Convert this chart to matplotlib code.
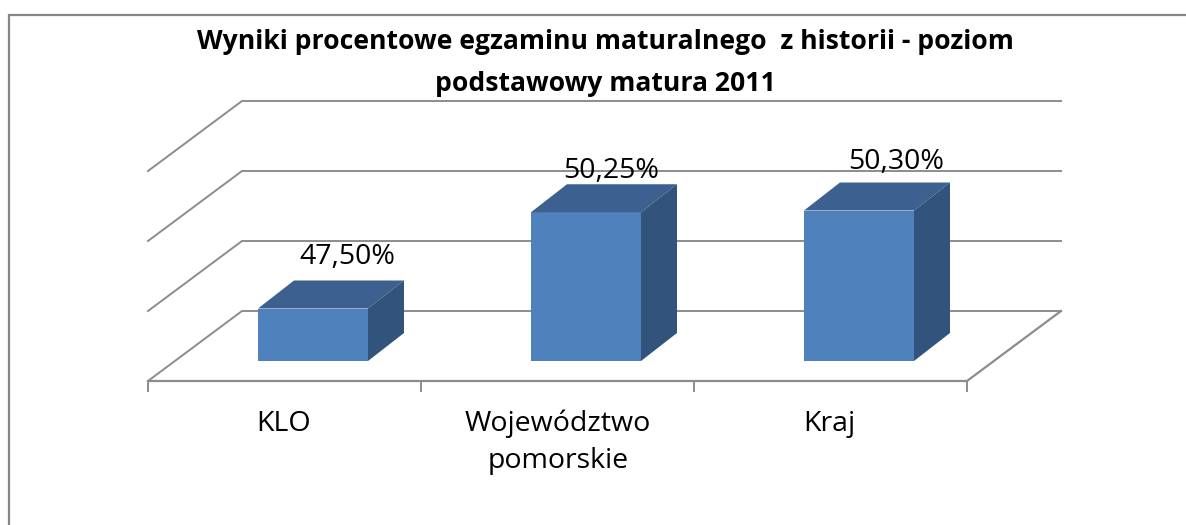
import matplotlib
matplotlib.use("Agg")
import matplotlib.pyplot as plt
from matplotlib.patches import Polygon

categories = ["KLO", "Województwo\npomorskie", "Kraj"]
values = [47.50, 50.25, 50.30]
value_labels = ["47,50%", "50,25%", "50,30%"]
grid_values = [46, 48, 50, 52]
title = "Wyniki procentowe egzaminu maturalnego  z historii - poziom\npodstawowy matura 2011"

W, H = 1186, 525
X0, PX_CAT = 148, 273
Y0, PX_UNIT = 381, 35
DX, DY = 94 / PX_CAT, 2.0   # depth of the plot box, in data units
plt.rcParams["font.family"] = ["Open Sans", "DejaVu Sans"]

fig = plt.figure(figsize=(W / 100, H / 100), dpi=100, facecolor="white")
ax = fig.add_axes([0, 0, 1, 1])
ax.set_xlim(-X0 / PX_CAT, (W - X0) / PX_CAT)
ax.set_ylim(46 - (H - Y0) / PX_UNIT, 46 + Y0 / PX_UNIT)
ax.axis("off")

def P(x, v, d=0.0):
    return (x + d * DX, v + d * DY)

GRID = "#8c8c8c"
# chart frame: only the left and top edges fall inside the picture
ax.plot([8.8 / W, 8.8 / W, 1.0], [0.0, 1 - 15 / H, 1 - 15 / H],
        transform=ax.transAxes, color="#868686", lw=1.6, solid_joinstyle="miter")
n = len(categories)
for v in grid_values:
    xs, ys = zip(P(0, v, 0), P(0, v, 1), P(n, v, 1))
    ax.plot(xs, ys, color=GRID, lw=1.4, solid_joinstyle="miter")
xs, ys = zip(P(0, 46, 0), P(n, 46, 0), P(n, 46, 1))
ax.plot(xs, ys, color=GRID, lw=1.6)
for i in range(n + 1):
    ax.plot([i, i], [46, 46 - 10 / PX_UNIT], color=GRID, lw=1.4)

BW = 110 / PX_CAT
D0, D1 = 20 / 70, 48 / 70
label_px = [(347, 257), (611, 171), (896, 162)]
for i, (v, lab) in enumerate(zip(values, value_labels)):
    cx = i + 0.5 + 28.5 / PX_CAT
    l, r = cx - BW / 2, cx + BW / 2
    off = lambda x, val, d: (x + (d - D0) * 70 * (36 / 28) / PX_CAT,
                             val + D0 * DY + (d - D0) * DY)
    ax.add_patch(Polygon([off(l, 46, D0), off(r, 46, D0), off(r, v, D0), off(l, v, D0)],
                         fc="#4F81BD", ec="none", zorder=3))
    ax.add_patch(Polygon([off(l, v, D0), off(r, v, D0), off(r, v, D1), off(l, v, D1)],
                         fc="#3C6090", ec="none", zorder=3))
    ax.add_patch(Polygon([off(r, 46, D0), off(r, 46, D1), off(r, v, D1), off(r, v, D0)],
                         fc="#31537C", ec="none", zorder=3))
    px, py = label_px[i]
    ax.text((px - X0) / PX_CAT, 46 + (Y0 - py) / PX_UNIT, lab, ha="center", va="center",
            fontsize=20.5, color="#000000", zorder=4)

label_x = [284, 558, 829]
for px, c in zip(label_x, categories):
    ax.text((px - X0) / PX_CAT, 46 - 29 / PX_UNIT, c, ha="center", va="top", fontsize=20.5,
            color="#000000", linespacing=1.42)

ax.text((605 - X0) / PX_CAT, 46 + (Y0 - 29) / PX_UNIT, title, ha="center", va="top", fontsize=19.1,
        fontweight="bold", color="#000000", linespacing=1.82)

fig.savefig("out.png", dpi=100, facecolor="white")
